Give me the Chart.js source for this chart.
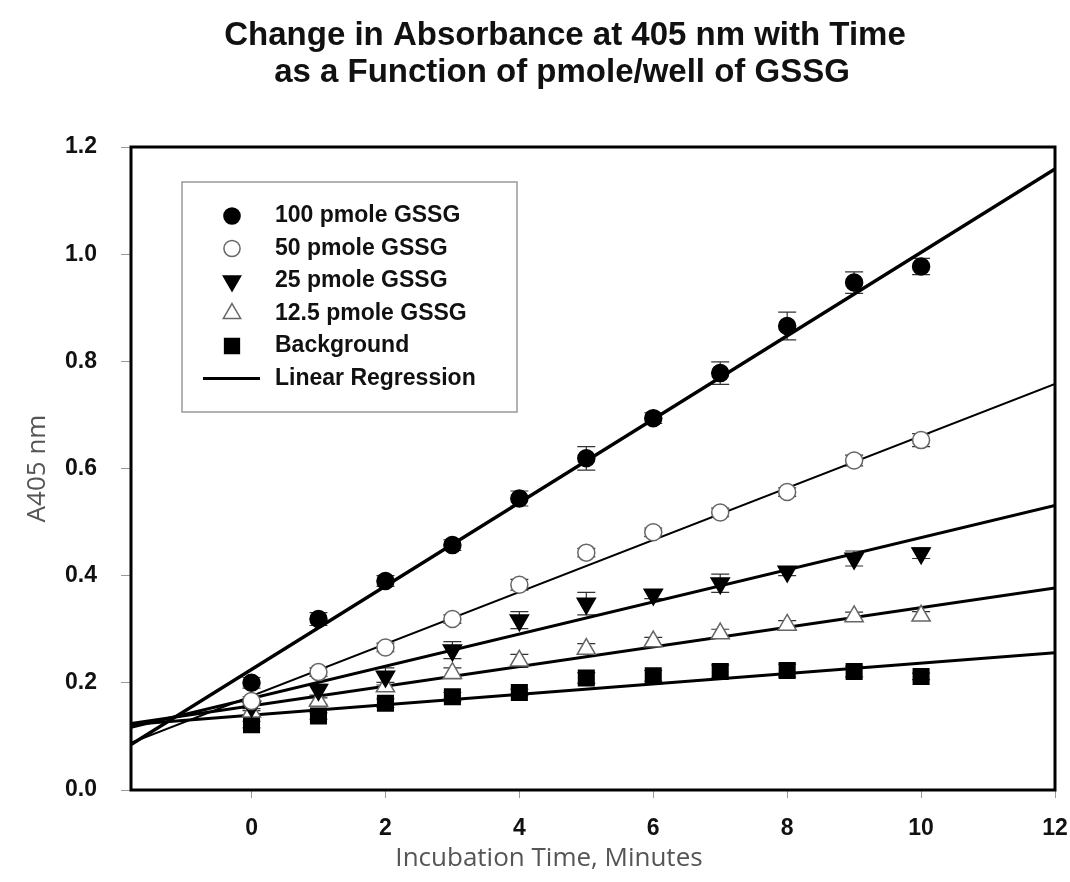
<!DOCTYPE html>
<html>
<head>
<meta charset="utf-8">
<script src="https://cdn.jsdelivr.net/npm/chart.js@4/dist/chart.umd.min.js"></script>
<style>
  body { margin: 0; background: #fff; }
  #wrap { width: 1070px; height: 882px; }
</style>
</head>
<body>
<div id="wrap"><canvas id="chart" width="1070" height="882"></canvas></div>
<script>
// data
var times = [0, 1, 2, 3, 4, 5, 6, 7, 8, 9, 10];
var gssg100 = [0.200, 0.319, 0.390, 0.457, 0.544, 0.619, 0.694, 0.778, 0.866, 0.947, 0.977];
var gssg50 = [0.166, 0.220, 0.266, 0.319, 0.383, 0.443, 0.481, 0.518, 0.556, 0.615, 0.653];
var gssg25 = [0.156, 0.187, 0.212, 0.261, 0.317, 0.348, 0.365, 0.386, 0.408, 0.432, 0.442];
var gssg12 = [0.146, 0.166, 0.193, 0.218, 0.241, 0.263, 0.277, 0.292, 0.308, 0.324, 0.325];
var background = [0.122, 0.138, 0.162, 0.174, 0.182, 0.209, 0.213, 0.221, 0.223, 0.221, 0.212];

// error bars (+/-)
var err100 = [0.010, 0.012, 0.010, 0.010, 0.014, 0.022, 0.010, 0.021, 0.026, 0.020, 0.015];
var err50 = [0.008, 0.008, 0.008, 0.008, 0.010, 0.008, 0.008, 0.008, 0.008, 0.010, 0.012];
var err25 = [0.008, 0.010, 0.016, 0.016, 0.016, 0.021, 0.008, 0.017, 0.008, 0.014, 0.010];
var err12 = [0.006, 0.006, 0.008, 0.010, 0.012, 0.010, 0.008, 0.008, 0.008, 0.008, 0.008];
var errBg = [0.006, 0.006, 0.008, 0.008, 0.006, 0.010, 0.010, 0.012, 0.012, 0.010, 0.006];

// regression lines, ends read at the plot edges
var fitX = [-1.8, 12];
var fit100 = [0.085, 1.159];
var fit50 = [0.088, 0.758];
var fit25 = [0.117, 0.531];
var fit12 = [0.124, 0.377];
var fitBg = [0.122, 0.256];

var yTicks = [0, 0.2, 0.4, 0.6, 0.8, 1.0, 1.2];
var xTicks = [0, 2, 4, 6, 8, 10, 12];

var titleLines = ["Change in Absorbance at 405 nm with Time", "as a Function of pmole/well of GSSG"];
var xTitle = "Incubation Time, Minutes";
var yTitle = "A405 nm";
var legendLabels = ["100 pmole GSSG", "50 pmole GSSG", "25 pmole GSSG", "12.5 pmole GSSG", "Background", "Linear Regression"];

function pts(xs, ys) {
  return xs.map(function (x, i) { return { x: x, y: ys[i] }; });
}

var markerStyles = [
  { pointStyle: "circle", radius: 8.5, fill: "#000", stroke: "#000", rotation: 0 },
  { pointStyle: "circle", radius: 8.5, fill: "#fff", stroke: "#666", rotation: 0 },
  { pointStyle: "triangle", radius: 10.5, fill: "#000", stroke: "#000", rotation: 180 },
  { pointStyle: "triangle", radius: 10.5, fill: "#fff", stroke: "#666", rotation: 0 },
  { pointStyle: "rect", radius: 11, fill: "#000", stroke: "#000", rotation: 0 }
];

function scatterSet(label, ys, errs, m) {
  return {
    type: "scatter",
    label: label,
    data: pts(times, ys),
    errors: errs,
    pointStyle: m.pointStyle,
    pointRadius: m.radius,
    pointRotation: m.rotation,
    pointBackgroundColor: m.fill,
    pointBorderColor: m.stroke,
    pointBorderWidth: 1.5,
    order: 1
  };
}

function fitSet(ys, w) {
  return {
    type: "line",
    label: "fit",
    data: pts(fitX, ys),
    borderColor: "#000",
    borderWidth: w,
    pointRadius: 0,
    fill: false,
    order: 2
  };
}

// error bars under everything
var errorBars = {
  id: "errorBars",
  beforeDatasetsDraw: function (chart) {
    var ctx = chart.ctx, xs = chart.scales.x, ys = chart.scales.y;
    ctx.save();
    ctx.strokeStyle = "#333";
    ctx.lineWidth = 1.2;
    chart.data.datasets.forEach(function (ds) {
      if (!ds.errors) return;
      ds.data.forEach(function (p, i) {
        var e = ds.errors[i];
        var px = xs.getPixelForValue(p.x);
        var top = ys.getPixelForValue(p.y + e);
        var bot = ys.getPixelForValue(p.y - e);
        ctx.beginPath();
        ctx.moveTo(px, top); ctx.lineTo(px, bot);
        ctx.moveTo(px - 9, top); ctx.lineTo(px + 9, top);
        ctx.moveTo(px - 9, bot); ctx.lineTo(px + 9, bot);
        ctx.stroke();
      });
    });
    ctx.restore();
  }
};

function drawMarker(ctx, m, x, y) {
  var r = m.radius;
  ctx.fillStyle = m.fill;
  ctx.strokeStyle = m.stroke;
  ctx.lineWidth = 1.5;
  ctx.beginPath();
  if (m.pointStyle === "circle") {
    ctx.arc(x, y, r, 0, Math.PI * 2);
  } else if (m.pointStyle === "rect") {
    var s = r * Math.SQRT1_2;
    ctx.rect(x - s, y - s, 2 * s, 2 * s);
  } else {
    var a = m.rotation * Math.PI / 180;
    for (var k = 0; k < 3; k++) {
      var px = x + Math.sin(a) * r, py = y - Math.cos(a) * r;
      if (k === 0) ctx.moveTo(px, py); else ctx.lineTo(px, py);
      a += Math.PI * 2 / 3;
    }
    ctx.closePath();
  }
  ctx.fill();
  ctx.stroke();
}

// title, x title, frame box + legend inside the plot
var frameAndLegend = {
  id: "frameAndLegend",
  afterDraw: function (chart) {
    var ctx = chart.ctx, a = chart.chartArea;
    ctx.save();

    ctx.fillStyle = "#111";
    ctx.textAlign = "center";
    ctx.textBaseline = "middle";
    ctx.font = "bold 33px 'Liberation Sans', Arial, sans-serif";
    ctx.fillText(titleLines[0], 565, 36);
    ctx.fillText(titleLines[1], 562, 73);

    ctx.fillStyle = "#555";
    ctx.font = "26px 'Open Sans', sans-serif";
    ctx.fillText(xTitle, 549, 859);

    ctx.strokeStyle = "#000";
    ctx.lineWidth = 3;
    ctx.strokeRect(a.left, a.top, a.right - a.left, a.bottom - a.top);

    var bx = a.left + 51, by = a.top + 35;
    ctx.strokeStyle = "#999";
    ctx.lineWidth = 1.5;
    ctx.strokeRect(bx, by, 335, 230);

    ctx.font = "bold 23px 'Liberation Sans', Arial, sans-serif";
    ctx.textAlign = "left";
    for (var i = 0; i < legendLabels.length; i++) {
      var ry = by + 34 + i * 32.5;
      if (i < markerStyles.length) {
        var m = Object.assign({}, markerStyles[i]);
        m.radius = m.radius * 0.95;
        drawMarker(ctx, m, bx + 50, ry);
      } else {
        ctx.strokeStyle = "#000";
        ctx.lineWidth = 3;
        ctx.beginPath();
        ctx.moveTo(bx + 21, ry); ctx.lineTo(bx + 78, ry);
        ctx.stroke();
      }
      ctx.fillStyle = "#111";
      ctx.fillText(legendLabels[i], bx + 93, ry);
    }
    ctx.restore();
  }
};

var chart = new Chart(document.getElementById("chart"), {
  data: {
    datasets: [
      scatterSet(legendLabels[0], gssg100, err100, markerStyles[0]),
      scatterSet(legendLabels[1], gssg50, err50, markerStyles[1]),
      scatterSet(legendLabels[2], gssg25, err25, markerStyles[2]),
      scatterSet(legendLabels[3], gssg12, err12, markerStyles[3]),
      scatterSet(legendLabels[4], background, errBg, markerStyles[4]),
      fitSet(fit100, 3.5),
      fitSet(fit50, 2),
      fitSet(fit25, 3),
      fitSet(fit12, 3),
      fitSet(fitBg, 3)
    ]
  },
  options: {
    responsive: false,
    animation: false,
    layout: { padding: { left: 0, right: 15, top: 147, bottom: 0 } },
    plugins: {
      legend: { display: false },
      tooltip: { enabled: false },
      title: { display: false }
    },
    scales: {
      x: {
        type: "linear",
        min: -1.8,
        max: 12,
        afterBuildTicks: function (s) {
          s.ticks = xTicks.map(function (v) { return { value: v }; });
        },
        afterFit: function (s) {
          s.height = 92;
          s.paddingLeft = 0;
          s.paddingRight = 0;
        },
        grid: { drawOnChartArea: false, drawTicks: true, tickLength: 8, color: "#999", lineWidth: 1 },
        border: { display: false },
        ticks: {
          color: "#111",
          padding: 17,
          font: { family: "'Liberation Sans', Arial, sans-serif", size: 23, weight: "bold" },
          callback: function (v) { return String(v); }
        },
        title: { display: false }
      },
      y: {
        type: "linear",
        min: 0,
        max: 1.2,
        afterBuildTicks: function (s) {
          s.ticks = yTicks.map(function (v) { return { value: v }; });
        },
        afterFit: function (s) {
          s.width = 131;
          s.paddingTop = 0;
          s.paddingBottom = 0;
        },
        grid: { drawOnChartArea: false, drawTicks: true, tickLength: 10, color: "#999", lineWidth: 1 },
        border: { display: false },
        ticks: {
          color: "#111",
          padding: 24,
          font: { family: "'Liberation Sans', Arial, sans-serif", size: 23, weight: "bold" },
          callback: function (v) { return v.toFixed(1); }
        },
        title: {
          display: true,
          text: yTitle,
          color: "#555",
          font: { family: "'Open Sans', sans-serif", size: 26 },
          padding: { top: 22, bottom: 0 }
        }
      }
    }
  },
  plugins: [errorBars, frameAndLegend]
});
</script>
</body>
</html>
